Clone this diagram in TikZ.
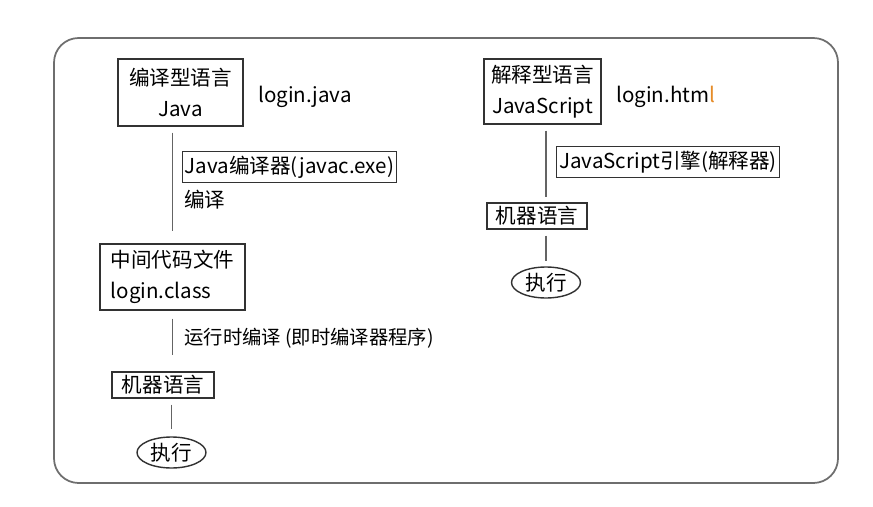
\documentclass[tikz,border=0pt]{standalone}
\usepackage{fontspec}
\setmainfont{Noto Sans CJK SC}
\usetikzlibrary{positioning,shapes.geometric}
\definecolor{cframe}{RGB}{110,110,110}
\definecolor{cbox}{RGB}{50,50,50}
\definecolor{clink}{RGB}{100,100,100}
\definecolor{ccursor}{RGB}{230,140,40}
\newcommand{\cnsize}{\fontsize{11.7}{17.5}\selectfont}
\tikzset{
  frame/.style={draw=cframe,line width=1pt,rounded corners=14pt},
  langbox/.style={rectangle,draw=cbox,line width=0.8pt,align=center,
    inner sep=0pt,font=\cnsize},
  toolbox/.style={rectangle,draw=cbox,line width=0.8pt,inner xsep=1.5pt,
    inner ysep=0pt,minimum height=0.62cm,font=\cnsize},
  plain/.style={inner sep=0pt,font=\cnsize},
  runnode/.style={ellipse,draw=cbox,line width=0.8pt,inner sep=0pt,
    minimum width=1.38cm,minimum height=0.62cm,font=\cnsize},
  link/.style={draw=clink,line width=0.9pt}
}
\begin{document}
\begin{tikzpicture}[x=0.02cm,y=-0.02cm]
  \useasboundingbox (0,0) rectangle (873,507);
  \draw[frame] (54,38) rectangle (838,483);
  % compiled language
  \node[langbox,minimum width=2.5cm,minimum height=1.34cm] (java) at (180.5,92.5)
    {编译型语言\\Java};
  \node[plain,anchor=west] (javafile) at (258,97) {login.java};
  \node[toolbox] (javac) at (289.5,167) {Java编译器(javac.exe)};
  \node[plain,anchor=west] (compile) at (184,200) {编译};
  \node[langbox,align=left,minimum width=2.9cm,minimum height=1.32cm] (classfile) at (172.5,277)
    {中间代码文件\\login.class};
  \node[plain,anchor=west,font=\fontsize{11}{14}\selectfont] (jit) at (184,338)
    {运行时编译 (即时编译器程序)};
  \node[toolbox,minimum width=2.04cm,minimum height=0.52cm] (machineL) at (163,385) {机器语言};
  \node[runnode] (runL) at (171.5,452.5) {执行};
  \draw[link] ([yshift=-0.12cm]java.south -| classfile.north) -- ([yshift=0.24cm]classfile.north);
  \draw[link] ([yshift=-0.16cm]classfile.south) -- ([yshift=0.32cm]classfile.south |- machineL.north);
  \draw[link] ([yshift=-0.12cm]machineL.south -| runL.north) -- ([yshift=0.14cm]runL.north);
  % interpreted language
  \node[langbox,minimum width=2.34cm,minimum height=1.3cm] (js) at (542.5,91.5)
    {解释型语言\\JavaScript};
  \node[plain,anchor=west] (jsfile) at (616,97) {login.htm\textcolor{ccursor}{l}};
  \node[toolbox] (engine) at (668,162) {JavaScript引擎(解释器)};
  \node[toolbox,minimum width=2cm,minimum height=0.52cm] (machineR) at (537,216) {机器语言};
  \node[runnode] (runR) at (546,282.5) {执行};
  \draw[link] ([yshift=-0.12cm]js.south -| runR.north) -- ([yshift=0.1cm]machineR.north -| runR.north);
  \draw[link] ([yshift=-0.12cm]machineR.south -| runR.north) -- ([yshift=0.1cm]runR.north);
\end{tikzpicture}
\end{document}
